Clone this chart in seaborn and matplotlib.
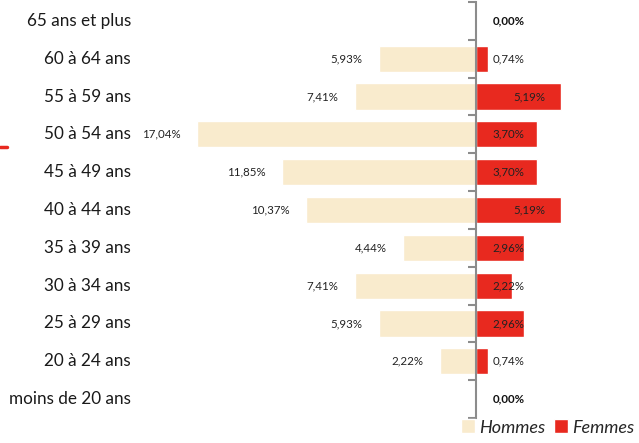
import matplotlib
matplotlib.use("Agg")
import matplotlib.pyplot as plt
import matplotlib.transforms as mtransforms
from matplotlib.lines import Line2D
from matplotlib.patches import Patch
import seaborn as sns
import numpy as np
import pandas as pd

# age groups, top to bottom
ages = ["65 ans et plus", "60 à 64 ans", "55 à 59 ans", "50 à 54 ans", "45 à 49 ans",
        "40 à 44 ans", "35 à 39 ans", "30 à 34 ans", "25 à 29 ans", "20 à 24 ans",
        "moins de 20 ans"]
hommes = [0.00, 5.93, 7.41, 17.04, 11.85, 10.37, 4.44, 7.41, 5.93, 2.22, 0.00]
femmes = [0.00, 0.74, 5.19, 3.70, 3.70, 5.19, 2.96, 2.22, 2.96, 0.74, 0.00]

col_h = "#F9EBCD"
col_f = "#E8291F"

sns.set_style("white")
plt.rcParams["font.family"] = ["Lato", "DejaVu Sans"]

def fmt(v):
    return ("%.2f" % v).replace(".", ",") + "%"

df = pd.DataFrame({"age": ages, "hommes": [-v for v in hommes], "femmes": femmes})

fig = plt.figure(figsize=(6.39, 4.43), dpi=100)
ax = fig.add_axes([140 / 639, 25 / 443, 490 / 639, 416 / 443])

sns.barplot(data=df, x="hommes", y="age", order=ages, color=col_h, width=0.69,
            saturation=1, ax=ax)
sns.barplot(data=df, x="femmes", y="age", order=ages, color=col_f, width=0.69,
            saturation=1, ax=ax)

ax.set_xlim(-20.5, 9.4)
ax.set_ylim(len(ages) - 0.5, -0.5)
ax.set_xlabel("")
ax.set_ylabel("")
ax.set_xticks([])

# central axis with ticks at category boundaries
for s in ["top", "right", "bottom"]:
    ax.spines[s].set_visible(False)
ax.spines["left"].set_position(("data", 0))
ax.spines["left"].set_color("#8C8C8C")
ax.spines["left"].set_linewidth(1.5)
ax.set_yticks(np.arange(len(ages)))
ax.set_yticklabels([])
ax.tick_params(axis="y", which="major", length=0)
ax.set_yticks(np.arange(len(ages) + 1) - 0.5, minor=True)
ax.tick_params(axis="y", which="minor", left=True, direction="out", length=6,
               width=1.5, color="#8C8C8C")

# category names on the far left
trans = mtransforms.blended_transform_factory(fig.transFigure, ax.transData)
for i, a in enumerate(ages):
    ax.text(131 / 639, i, a, transform=trans, ha="right", va="center",
            fontsize=12.3, color="#1A1A1A")

# value labels
for i, (h, f) in enumerate(zip(hommes, femmes)):
    if h > 0:
        ax.text(-h - 1.0, i, fmt(h), ha="right", va="center", fontsize=8.3, color="#222222")
    if f > 0:
        ax.text(max(1.0, f - 2.9), i, fmt(f), ha="left", va="center", fontsize=8.3,
                color="#222222")
    else:
        ax.text(1.0, i, fmt(f), ha="left", va="center", fontsize=8.3,
                fontweight="bold", color="#111111")

handles = [Patch(facecolor=col_h, label="Hommes"), Patch(facecolor=col_f, label="Femmes")]
fig.legend(handles=handles, loc="lower right", bbox_to_anchor=(1.018, -0.02), ncol=2,
           frameon=False, prop={"style": "italic", "size": 13}, handlelength=0.8,
           handleheight=0.8, handletextpad=0.2, columnspacing=0.5)

# small red dash at the left edge
fig.add_artist(Line2D([0, 7 / 639], [1 - 147 / 443, 1 - 147 / 443], color=col_f,
                      linewidth=2.5, transform=fig.transFigure))

fig.savefig("out.png", dpi=100)
